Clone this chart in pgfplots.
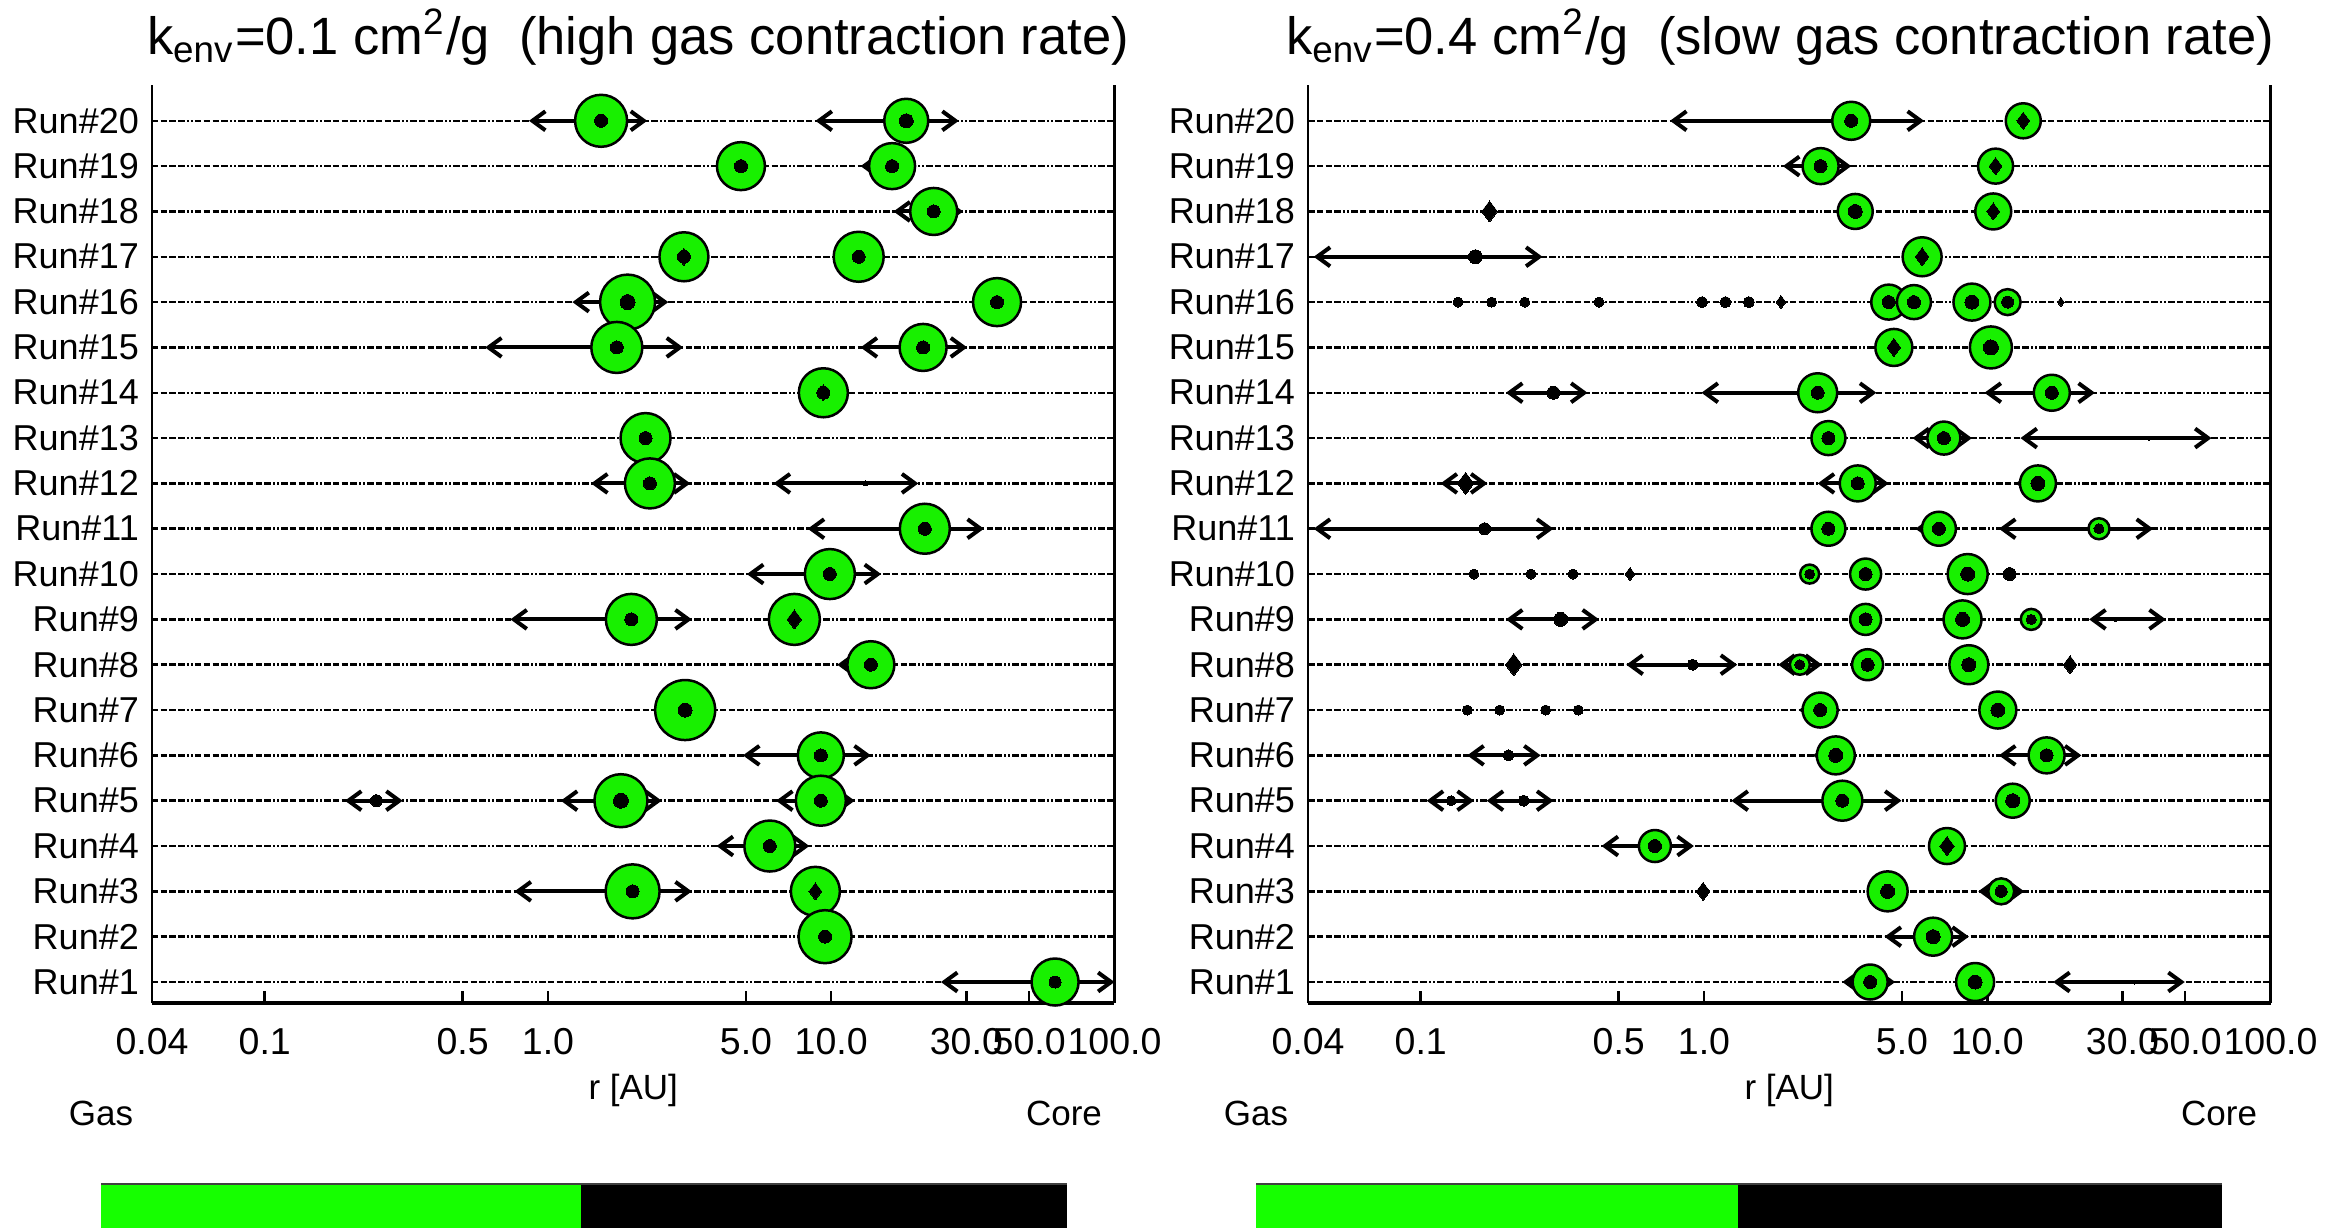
\documentclass[border=0pt]{standalone}
\usepackage{pgfplots}
\pgfplotsset{compat=1.18}
\usepackage{pgfplotstable}
\usepackage{fontspec}
\setmainfont{Liberation Sans}
\usetikzlibrary{arrows.meta}
\definecolor{pgreen}{RGB}{24,240,0}
\definecolor{bgreen}{RGB}{22,255,0}

\pgfplotstableread{
y r g
20 1.54 5.2
20 18.4 4.4
19 4.8 4.8
19 16.4 4.6
18 23.0 4.7
17 3.02 4.9
17 12.5 5.0
16 1.91 5.5
16 38.5 4.8
15 1.75 5.1
15 21.1 4.7
14 9.38 4.9
13 2.21 5.0
12 2.29 5.0
11 21.4 5.0
10 9.89 5.0
9 1.97 5.1
9 7.41 5.1
8 13.8 4.7
7 3.05 6.0
6 9.19 4.6
5 1.81 5.3
5 9.19 5.0
4 6.07 5.1
3 1.99 5.4
3 8.79 4.9
2 9.51 5.3
1 61.7 4.7
}\greenL
\pgfplotstableread{
y r c
20 1.54 1.3
20 18.4 1.4
19 4.8 1.3
19 16.4 1.3
18 23.0 1.3
17 3.02 1.3
17 12.5 1.3
16 1.91 1.5
16 38.5 1.3
15 1.75 1.3
15 21.1 1.3
14 9.38 1.3
13 2.21 1.3
12 2.29 1.3
12 13.2 0.5
11 21.4 1.3
10 9.89 1.3
9 1.97 1.3
8 13.8 1.3
7 3.05 1.4
6 9.19 1.3
5 0.248 1.2
5 1.81 1.5
5 9.19 1.3
4 6.07 1.3
3 1.99 1.3
2 9.51 1.3
1 61.7 1.2
}\coreL
\pgfplotstableread{
y r c
17 3.02 1.7
9 7.41 1.9
3 8.79 1.7
14 9.38 1.6
}\diamL

\pgfplotstableread{
y r g
20 3.31 3.8
20 13.4 3.5
19 2.58 3.6
19 10.7 3.5
18 3.42 3.5
18 10.5 3.6
17 5.89 3.9
16 4.49 3.5
16 5.51 3.4
16 8.83 3.7
16 11.8 2.6
15 4.68 3.7
15 10.3 4.2
14 2.52 3.9
14 16.9 3.6
13 2.75 3.4
13 7.03 3.3
12 3.49 3.6
12 15.1 3.6
11 2.75 3.4
11 6.75 3.4
11 24.8 2.1
10 2.36 1.9
10 3.72 3.1
10 8.53 4.0
9 3.72 3.1
9 8.18 3.8
9 14.3 2.1
8 2.18 2.0
8 3.78 3.1
8 8.61 3.9
7 2.57 3.5
7 10.9 3.7
6 2.92 3.8
6 16.2 3.6
5 3.08 4.0
5 12.3 3.4
4 0.671 3.2
4 7.21 3.6
3 4.45 4.0
3 11.2 2.6
2 6.44 3.8
1 3.86 3.5
1 9.06 3.8
}\greenR
\pgfplotstableread{
y r c
20 3.31 1.3
19 2.58 1.3
18 3.42 1.4
17 0.156 1.4
16 0.1355 1.0
16 0.178 1.0
16 0.233 1.0
16 0.426 1.0
16 0.984 1.1
16 1.19 1.1
16 1.44 1.1
16 4.49 1.3
16 5.51 1.3
16 8.83 1.4
16 11.8 1.2
15 10.3 1.5
14 0.294 1.3
14 2.52 1.3
14 16.9 1.3
13 2.75 1.3
13 7.03 1.3
13 37.2 0.4
12 3.49 1.3
12 15.1 1.4
11 0.168 1.2
11 2.75 1.3
11 6.75 1.3
11 24.8 1.0
10 0.154 1.0
10 0.245 1.0
10 0.345 1.0
10 2.36 1.0
10 3.72 1.3
10 8.53 1.4
10 12.0 1.3
9 0.312 1.4
9 3.72 1.3
9 8.18 1.4
9 14.3 1.0
9 28.4 0.4
8 0.912 1.1
8 2.18 1.0
8 3.78 1.3
8 8.61 1.4
7 0.146 1.0
7 0.190 1.0
7 0.276 1.0
7 0.360 1.0
7 2.57 1.3
7 10.9 1.4
6 0.204 1.1
6 2.92 1.4
6 16.2 1.3
5 0.128 1.0
5 0.231 1.1
5 3.08 1.3
5 12.3 1.4
4 0.671 1.3
3 4.45 1.4
3 11.2 1.2
2 6.44 1.4
1 3.86 1.3
1 9.06 1.4
1 33.1 0.4
}\coreR
\pgfplotstableread{
y r c
20 13.4 1.7
19 10.7 1.7
18 0.175 2.1
18 10.5 1.7
17 5.89 1.8
16 1.87 1.3
16 18.2 0.9
15 4.68 1.8
12 0.144 2.2
10 0.548 1.3
8 0.213 2.2
8 19.6 1.8
4 7.21 1.9
3 0.993 1.8
}\diamR

\tikzset{karrow/.style={black, line width=0.8pt,
    {Straight Barb[length=2.6pt,width=3.8pt]}-{Straight Barb[length=2.6pt,width=3.8pt]}}}
\newcommand{\arr}[3]{\addplot[karrow] coordinates {(#2,#1) (#3,#1)};}

\newcommand{\greenplot}[1]{%
  \addplot[scatter, only marks, mark=*,
    scatter/use mapped color={draw=black, fill=pgreen},
    mark options={line width=0.5pt},
    visualization depends on={\thisrow{g} \as \gsz},
    scatter/@pre marker code/.append style={/tikz/mark size=\gsz}]
    table[x=r, y=y] {#1};}
\newcommand{\coreplot}[2]{%
  \addplot[scatter, only marks, mark=#2,
    scatter/use mapped color={draw=black, fill=black},
    mark options={line width=0pt},
    visualization depends on={\thisrow{c} \as \csz},
    scatter/@pre marker code/.append style={/tikz/mark size=\csz}]
    table[x=r, y=y] {#1};}

\pgfplotsset{
  every axis/.append style={
    scale only axis, width=192.5pt, height=183.6pt,
    xmode=log, xmin=0.04, xmax=100, ymin=0.537, ymax=20.79,
    axis x line*=bottom, axis y line*=box,
    x axis line style={line width=0.8pt},
    y axis line style={line width=0.5pt},
    xtick={0.04,0.1,0.5,1,5,10,30,50,100},
    xticklabels={0.04,0.1,0.5,1.0,5.0,10.0,30.0,50.0,100.0},
    xminorticks=false,
    tick align=inside, major tick length=2.4pt,
    xtick style={black, line width=0.5pt},
    ytick={1,...,20},
    yticklabels={Run\#1,Run\#2,Run\#3,Run\#4,Run\#5,Run\#6,Run\#7,Run\#8,Run\#9,Run\#10,
                 Run\#11,Run\#12,Run\#13,Run\#14,Run\#15,Run\#16,Run\#17,Run\#18,Run\#19,Run\#20},
    ytick style={draw=none},
    ymajorgrids=true,
    major grid style={black, line width=0.5pt,
      dash pattern=on 1.3pt off 0.45pt on 1.3pt off 0.45pt on 1.3pt off 0.45pt on 1.3pt off 0.45pt on 0.35pt off 0.45pt on 0.35pt off 0.45pt},
    xticklabel style={font=\fontsize{7.5}{9}\selectfont, yshift=-1.5pt},
    yticklabel style={font=\fontsize{7.2}{9}\selectfont, xshift=0.9pt},
    xlabel style={at={(axis description cs:0.5,0)}, anchor=center, yshift=-17.4pt,
                  font=\fontsize{7}{9}\selectfont},
    clip=false,
  },
}

\begin{document}
\begin{tikzpicture}
\useasboundingbox (0,0) rectangle (467.2pt,245.6pt);

\begin{axis}[at={(30.4pt,45pt)}, anchor=south west, xlabel={r [AU]}]
\greenplot{\greenL}
\arr{20}{0.857}{2.24} \arr{20}{8.8}{28.2}
\arr{19}{3.9}{5.86} \arr{19}{12.7}{19.8}
\arr{18}{16.6}{29.2}
\arr{17}{11.0}{14.2}
\arr{16}{1.22}{2.66} \arr{16}{31.0}{46.6}
\arr{15}{0.60}{3.0} \arr{15}{12.7}{30.2}
\arr{13}{1.81}{2.66}
\arr{12}{1.42}{3.18} \arr{12}{6.26}{20.3}
\arr{11}{8.26}{34.6}
\arr{10}{5.04}{15.0}
\arr{9}{0.737}{3.22}
\arr{8}{10.5}{17.1}
\arr{7}{2.39}{3.91}
\arr{6}{4.88}{13.8}
\arr{5}{0.192}{0.307} \arr{5}{1.11}{2.52} \arr{5}{6.39}{12.1}
\arr{4}{3.94}{8.37}
\arr{3}{0.762}{3.22}
\arr{2}{7.67}{11.6}
\arr{1}{24.4}{100}
\coreplot{\coreL}{*}
\coreplot{\diamL}{diamond*}
\end{axis}

\begin{axis}[at={(261.6pt,45pt)}, anchor=south west, xlabel={r [AU]}]
\greenplot{\greenR}
\arr{20}{0.759}{5.98}
\arr{19}{1.90}{3.31}
\arr{17}{0.0419}{0.269}
\arr{14}{0.200}{0.388} \arr{14}{0.98}{4.06} \arr{14}{9.78}{24.0}
\arr{13}{5.45}{8.83} \arr{13}{13.1}{61.9}
\arr{12}{0.1175}{0.172} \arr{12}{2.52}{4.49} \arr{12}{12.6}{17.7}
\arr{11}{0.0419}{0.294} \arr{11}{5.58}{7.78} \arr{11}{11.0}{38.5}
\arr{9}{0.200}{0.426} \arr{9}{22.9}{42.7}
\arr{8}{0.532}{1.31} \arr{8}{1.83}{2.61}
\arr{7}{2.16}{3.04}
\arr{6}{0.146}{0.265} \arr{6}{2.42}{3.42} \arr{6}{11.0}{21.5}
\arr{5}{0.105}{0.154} \arr{5}{0.171}{0.294} \arr{5}{1.25}{4.98}
\arr{4}{0.435}{0.921}
\arr{3}{9.3}{13.5}
\arr{2}{4.34}{8.61}
\arr{1}{3.08}{4.73} \arr{1}{17.1}{49.8}
\coreplot{\coreR}{*}
\coreplot{\diamR}{diamond*}
\end{axis}

\node[font=\fontsize{10.5}{12}\selectfont] at (127.6pt,238.2pt)
  {k\textsubscript{env}=0.1 cm\textsuperscript{2}/g\ \ (high gas contraction rate)};
\node[font=\fontsize{10.5}{12}\selectfont] at (356pt,238.2pt)
  {k\textsubscript{env}=0.4 cm\textsuperscript{2}/g\ \ (slow gas contraction rate)};

\node[font=\fontsize{7}{9}\selectfont] at (20.2pt,23pt) {Gas};
\node[font=\fontsize{7}{9}\selectfont] at (212.8pt,23pt) {Core};
\node[font=\fontsize{7}{9}\selectfont] at (251.2pt,23pt) {Gas};
\node[font=\fontsize{7}{9}\selectfont] at (443.8pt,23pt) {Core};

\fill[bgreen] (20.2pt,0) rectangle (116.2pt,8.8pt);
\fill[black] (116.2pt,0) rectangle (213.4pt,8.8pt);
\draw[black!75, line width=0.4pt] (20.2pt,8.8pt) -- (213.4pt,8.8pt);
\fill[bgreen] (251.2pt,0) rectangle (347.6pt,8.8pt);
\fill[black] (347.6pt,0) rectangle (444.4pt,8.8pt);
\draw[black!75, line width=0.4pt] (251.2pt,8.8pt) -- (444.4pt,8.8pt);
\end{tikzpicture}
\end{document}
